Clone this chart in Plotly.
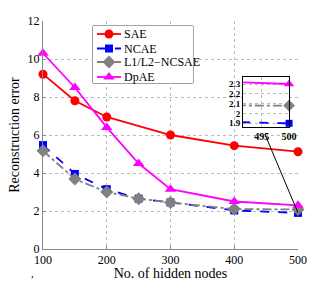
import plotly.graph_objects as go

nodes = [100, 150, 200, 250, 300, 400, 500]
sae_x = [100, 150, 200, 300, 400, 500]
sae = [9.2, 7.8, 6.95, 6.0, 5.44, 5.12]
ncae = [5.47, 3.95, 3.15, 2.65, 2.45, 2.03, 1.9]
l1l2 = [5.17, 3.68, 3.0, 2.65, 2.45, 2.1, 2.08]
dpae = [10.3, 8.5, 6.4, 4.5, 3.15, 2.5, 2.3]
x_ticks = [100, 200, 300, 400, 500]
y_ticks = [0, 2, 4, 6, 8, 10, 12]
inset_xticks = [495, 500]
inset_yticks = [1.9, 2.0, 2.1, 2.2, 2.3]
inset_ylabels = ["1.9", "2", "2.1", "2.2", "2.3"]
legend_names = ["SAE", "NCAE", "L1/L2\u2212NCSAE", "DpAE"]

FONT = "Liberation Serif"
styles = [
    (sae_x, sae, "red", "solid", "circle", 9),
    (nodes, ncae, "blue", "dash", "square", 8),
    (nodes, l1l2, "#808080", "dashdot", "diamond", 10),
    (nodes, dpae, "magenta", "solid", "triangle-up", 10),
]

fig = go.Figure()
for name, (xs, ys, col, dash, sym, ms) in zip(legend_names, styles):
    fig.add_trace(go.Scatter(x=xs, y=ys, name=name, mode="lines+markers",
                             line=dict(color=col, width=1.8, dash=dash),
                             marker=dict(color=col, symbol=sym, size=ms),
                             cliponaxis=False, showlegend=False))
for name, (xs, ys, col, dash, sym, ms) in zip(legend_names, styles):
    fig.add_trace(go.Scatter(x=xs, y=ys, name=name, mode="lines+markers",
                             line=dict(color=col, width=1.8, dash=dash),
                             marker=dict(color=col, symbol=sym, size=ms - 1),
                             xaxis="x2", yaxis="y2", showlegend=False,
                             cliponaxis=False))

# hand-drawn legend on its own pixel-scaled axes
row_y = [34, 48.5, 62, 77]
for i, (name, (xs, ys, col, dash, sym, ms)) in enumerate(zip(legend_names, styles)):
    fig.add_trace(go.Scatter(x=[97, 121], y=[row_y[i]] * 2, mode="lines",
                             line=dict(color=col, width=1.8, dash=dash),
                             xaxis="x3", yaxis="y3", showlegend=False,
                             hoverinfo="skip"))
    fig.add_trace(go.Scatter(x=[109], y=[row_y[i]], mode="markers",
                             marker=dict(color=col, symbol=sym, size=ms),
                             xaxis="x3", yaxis="y3", showlegend=False,
                             hoverinfo="skip"))
    fig.add_annotation(text=name, xref="x3", yref="y3", x=122, y=row_y[i],
                       xanchor="left", yanchor="middle", showarrow=False,
                       font=dict(family=FONT, size=12, color="black"))

fig.add_annotation(text=",", xref="paper", yref="paper", x=-0.043, y=-0.105,
                   xanchor="center", yanchor="middle", showarrow=False,
                   font=dict(family=FONT, size=11, color="black"))

fig.update_layout(
    width=329, height=281,
    margin=dict(l=43, r=31, t=21, b=32, autoexpand=False),
    paper_bgcolor="white", plot_bgcolor="white",
    font=dict(family=FONT, size=12, color="black"),
    showlegend=False,
    xaxis=dict(range=[100, 500], tickvals=x_ticks, showgrid=True,
               gridcolor="#bbb", griddash="dot", gridwidth=1,
               showline=True, linecolor="#888", linewidth=1, zeroline=False,
               ticks="inside", ticklen=3, tickcolor="#888", automargin=False,
               title=dict(text="No. of hidden nodes", standoff=2),
               tickfont=dict(size=12)),
    yaxis=dict(range=[0, 12], tickvals=y_ticks, showgrid=True,
               gridcolor="#bbb", griddash="dot", gridwidth=1,
               showline=True, linecolor="#888", linewidth=1, zeroline=False,
               ticks="inside", ticklen=3, tickcolor="#888", automargin=False,
               title=dict(text="Reconstruction error", standoff=4),
               tickfont=dict(size=12)),
    xaxis2=dict(domain=[0.785, 0.965], anchor="y2", range=[491.6, 500],
                tickvals=inset_xticks, showgrid=True, gridcolor="#bbb",
                griddash="dot", showline=True, mirror=True, linecolor="black",
                linewidth=1.2, zeroline=False, ticks="", automargin=False,
                tickfont=dict(family=FONT, size=10, weight="bold")),
    yaxis2=dict(domain=[0.534, 0.756], anchor="x2", range=[1.86, 2.375],
                tickvals=inset_yticks, ticktext=inset_ylabels, showgrid=True,
                gridcolor="#bbb", griddash="dot", showline=True, mirror=True,
                linecolor="black", linewidth=1.2, zeroline=False, ticks="",
                ticklabelstandoff=0, automargin=False,
                tickfont=dict(family=FONT, size=9, weight="bold")),
    xaxis3=dict(domain=[0.196, 0.588], anchor="y3", range=[93, 193],
                visible=False, fixedrange=True, automargin=False),
    yaxis3=dict(domain=[0.728, 0.978], anchor="x3", range=[83, 26],
                visible=False, fixedrange=True, automargin=False),
    shapes=[dict(type="rect", xref="paper", yref="paper", x0=0.196, x1=0.588,
                 y0=0.728, y1=0.978, line=dict(color="#444", width=1),
                 fillcolor="white", layer="between")],
)
fig.add_shape(type="line", xref="x", yref="y", x0=448, y0=6.05, x1=500, y1=1.9,
              line=dict(color="black", width=1))

fig.write_html("out.html", config={"displayModeBar": False},
               post_script="document.body.style.margin='0';document.body.style.padding='0';")
